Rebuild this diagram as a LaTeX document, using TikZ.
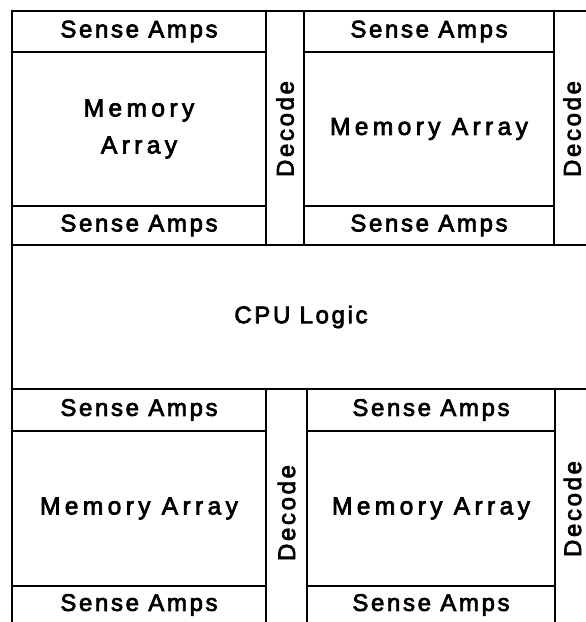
\documentclass[tikz,border=0pt]{standalone}
\usepackage{fontspec}
\setmainfont{Liberation Sans}[LetterSpace=11,FakeBold=3]
\begin{document}
\begin{tikzpicture}[x=1pt,y=-1pt,
  blk/.style={draw=black,line width=1.5pt,rectangle,inner sep=0pt,align=center,
    font=\fontsize{24}{37}\selectfont},
  wide/.style={font=\fontsize{24.5}{37}\selectfont\addfontfeature{LetterSpace=18}},
  vert/.style={rotate=90}]
  \useasboundingbox (0,0) rectangle (586,622);
  \clip (0,0) rectangle (586,622);
  % box from corner (x1,y1) to (x2,y2): centre, width and height
  \def\mkbox#1#2#3#4#5#6#7{%
    \node[blk,#6,minimum width={(#4)-(#2)},minimum height={(#5)-(#3)}]
      (#1) at ({((#2)+(#4))/2},{((#3)+(#5))/2}) {#7};}
  % upper half
  \mkbox{saA}{12}{11}{266}{52}{}{Sense Amps}
  \mkbox{maA}{12}{52}{266}{206}{wide}{Memory\\Array}
  \mkbox{sbA}{12}{206}{266}{245}{}{Sense Amps}
  \mkbox{dcA}{266}{11}{304}{245}{}{}
  \mkbox{saB}{304}{11}{554}{52}{}{Sense Amps}
  \mkbox{maB}{304}{52}{554}{206}{wide}{Memory Array}
  \mkbox{sbB}{304}{206}{554}{245}{}{Sense Amps}
  \mkbox{dcB}{554}{11}{590}{245}{}{}
  % processor strip
  \mkbox{cpu}{12}{245}{590}{389}{}{CPU Logic}
  % lower half
  \mkbox{saC}{12}{389}{266}{431}{}{Sense Amps}
  \mkbox{maC}{12}{431}{266}{586}{wide}{Memory Array}
  \mkbox{sbC}{12}{586}{266}{624}{}{Sense Amps}
  \mkbox{dcC}{266}{389}{307}{624}{}{}
  \mkbox{saD}{307}{389}{555}{431}{}{Sense Amps}
  \mkbox{maD}{307}{431}{555}{586}{wide}{Memory Array}
  \mkbox{sbD}{307}{586}{555}{624}{}{Sense Amps}
  \mkbox{dcD}{555}{389}{590}{624}{}{}
  % rotated decoder labels
  \foreach \d/\yy in {dcA/129,dcB/129,dcC/513,dcD/509}
    \node[vert,font=\fontsize{24}{37}\selectfont] at (\d.center |- 0,\yy) {Decode};
\end{tikzpicture}
\end{document}
